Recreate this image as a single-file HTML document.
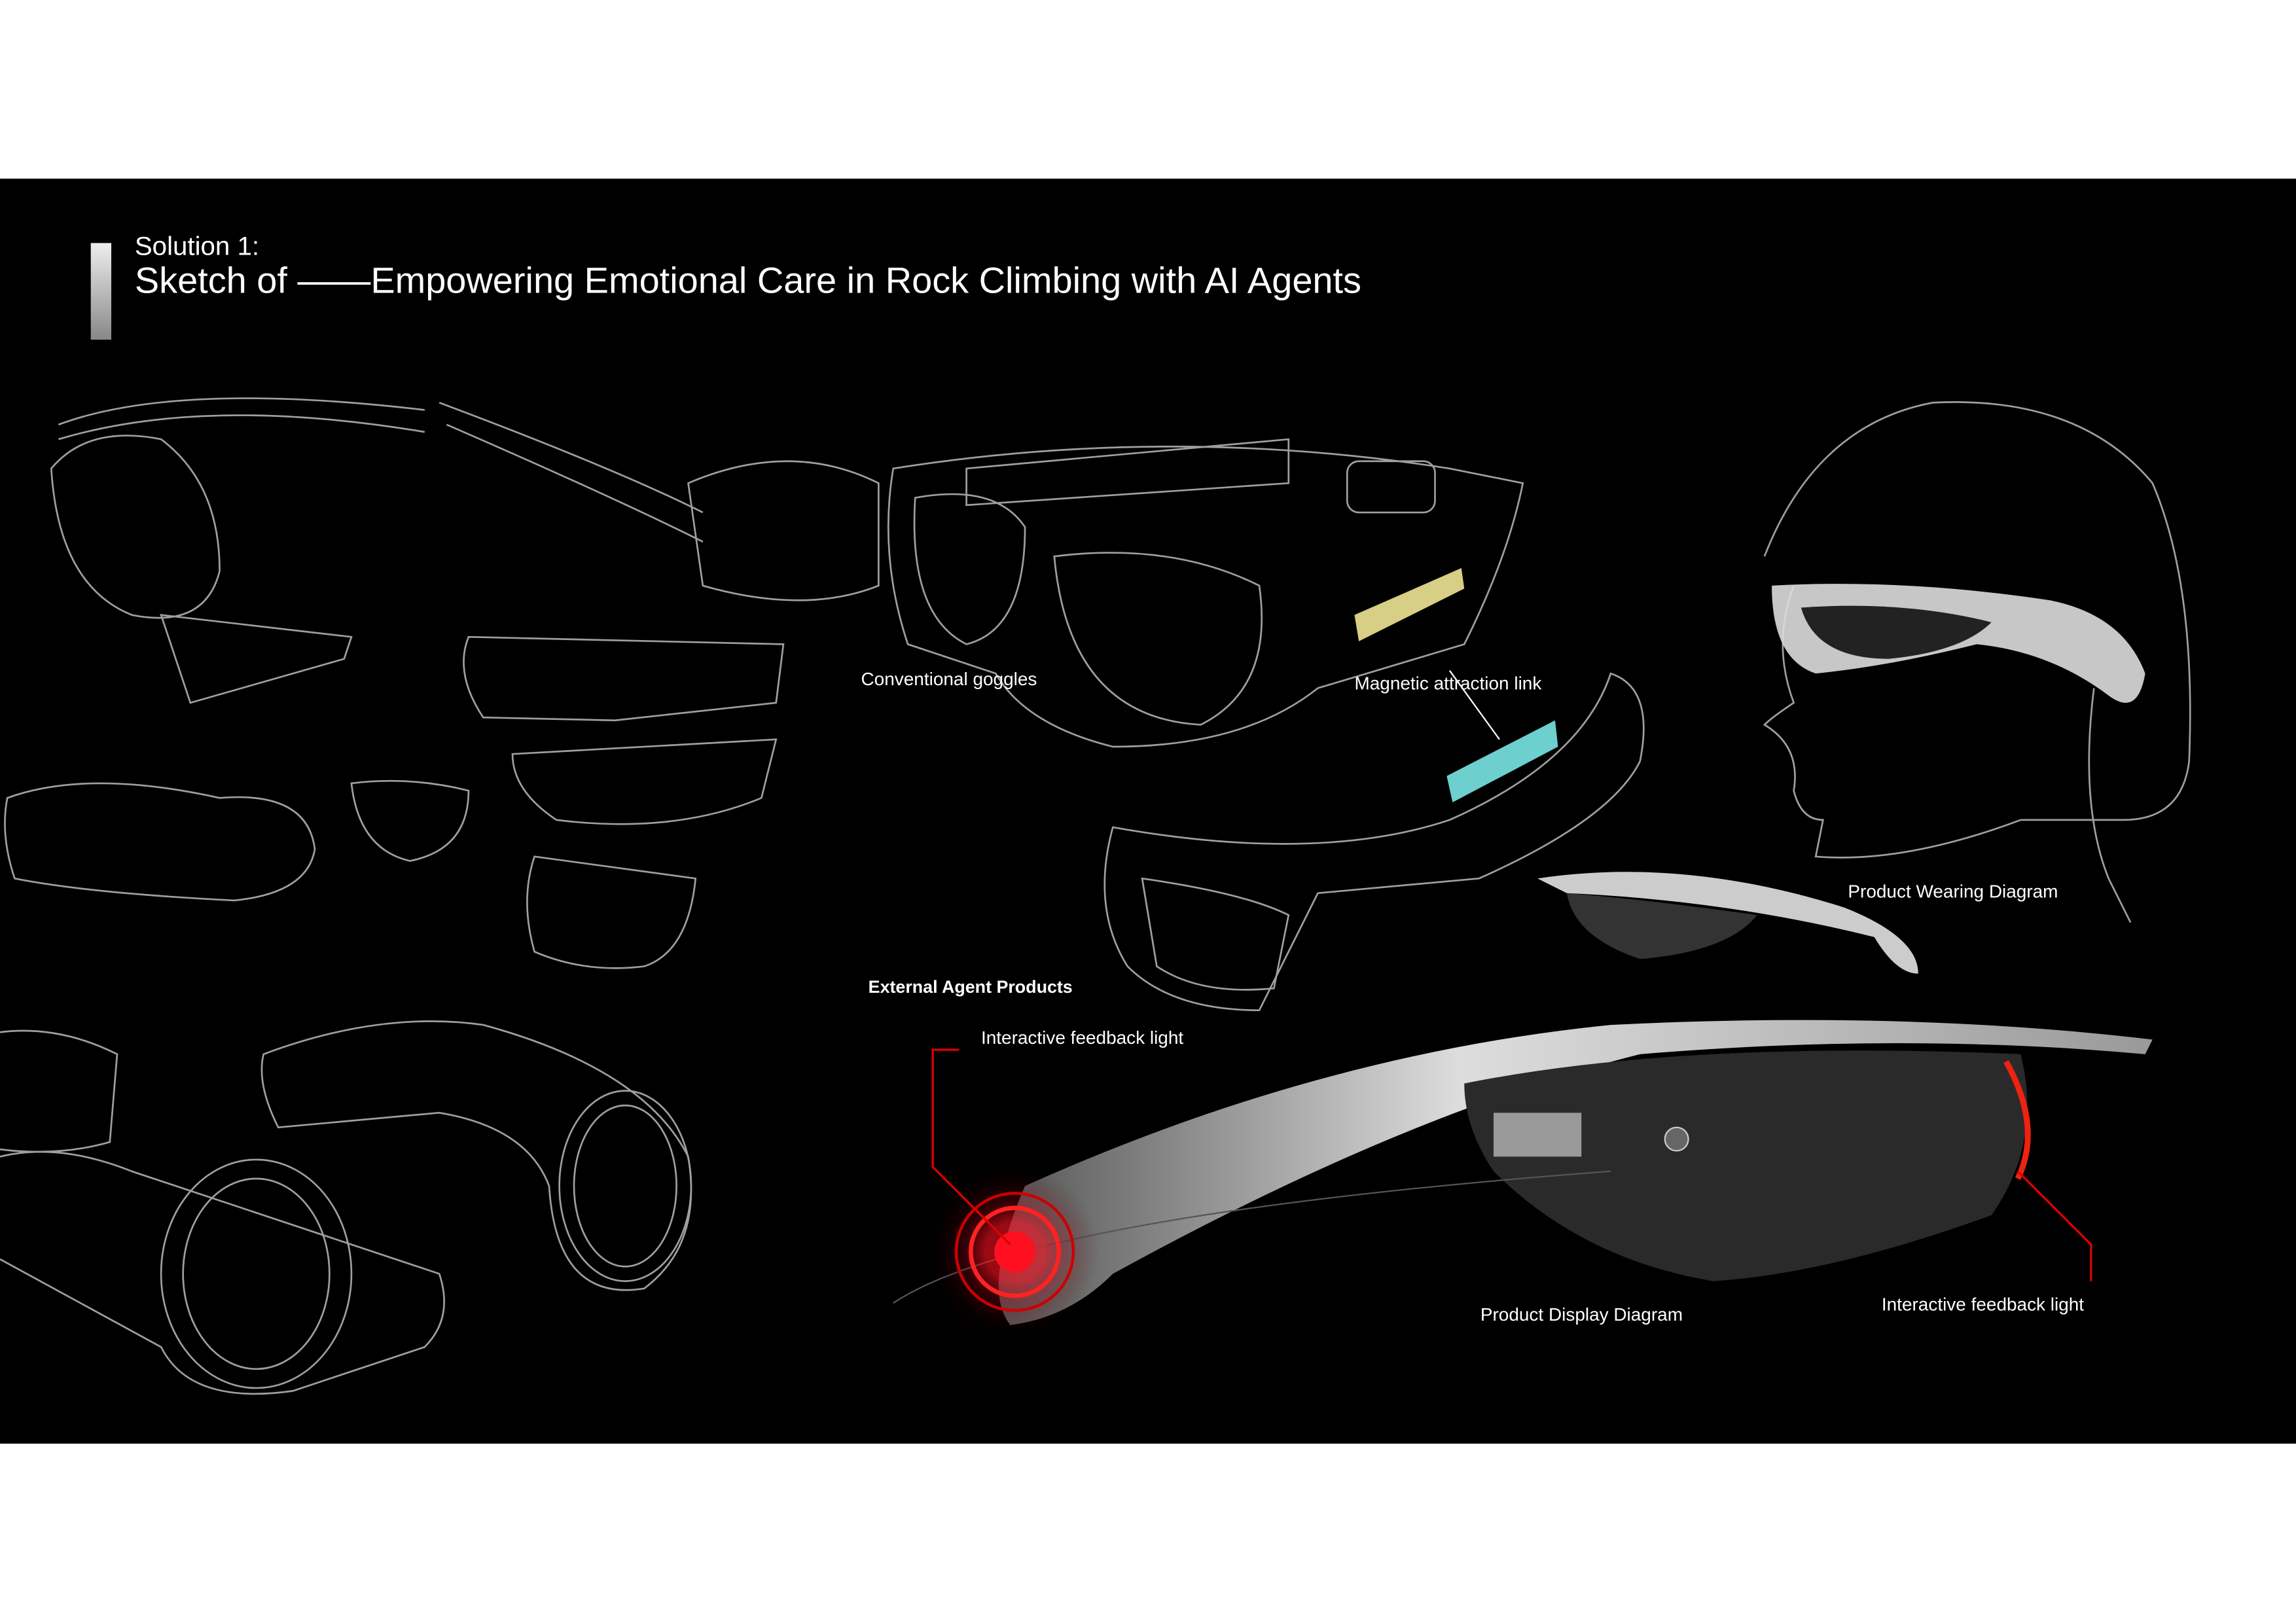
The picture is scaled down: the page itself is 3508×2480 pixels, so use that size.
<!DOCTYPE html>
<html><head><meta charset="utf-8"><style>
html,body{margin:0;padding:0;background:#fff;}
svg{display:block;}
text{font-family:"Liberation Sans",sans-serif;fill:#fff;}
</style></head><body>
<svg width="3508" height="2480" viewBox="0 0 1568 1108.5" xmlns="http://www.w3.org/2000/svg">
<defs>
<linearGradient id="bar" x1="0" y1="0" x2="0" y2="1"><stop offset="0" stop-color="#eee"/><stop offset="1" stop-color="#888"/></linearGradient>
<linearGradient id="arm" x1="0" y1="0" x2="1" y2="0"><stop offset="0" stop-color="#555"/><stop offset="0.4" stop-color="#ddd"/><stop offset="1" stop-color="#999"/></linearGradient>
<radialGradient id="glow"><stop offset="0" stop-color="#ff1020"/><stop offset="0.35" stop-color="#ff1020"/><stop offset="0.6" stop-color="#a00010" stop-opacity="0.5"/><stop offset="1" stop-color="#300" stop-opacity="0"/></radialGradient>
</defs>
<rect x="0" y="0" width="1568" height="1108.5" fill="#fff"/>
<rect x="0" y="122" width="1568" height="864" fill="#000"/>
<rect x="62" y="166" width="14" height="66" fill="url(#bar)"/>
<text x="92" y="174" font-size="18">Solution 1:</text>
<text x="92" y="200" font-size="25">Sketch of ——Empowering Emotional Care in Rock Climbing with AI Agents</text>

<g fill="none" stroke="#bbb" stroke-width="1.2" opacity="0.85">
 <!-- left top glasses -->
 <path d="M40 290 Q120 260 290 280 M40 300 Q140 270 290 295"/>
 <path d="M35 320 Q60 290 110 300 Q150 330 150 390 Q140 430 90 420 Q40 400 35 320Z"/>
 <path d="M110 420 L240 435 L235 450 L130 480 Z"/>
 <path d="M300 275 Q420 320 480 350 M305 290 Q420 340 480 370"/>
 <path d="M470 330 Q540 300 600 330 L600 400 Q550 420 480 400 Z"/>
 <path d="M610 320 Q800 290 990 320 L1040 330 Q1030 380 1000 440 L900 470 Q850 510 760 510 Q700 495 680 460 L620 440 Q600 380 610 320Z"/>
 <path d="M625 340 Q680 330 700 360 Q700 430 660 440 Q620 420 625 340Z"/>
 <path d="M720 380 Q800 370 860 400 Q870 470 820 495 Q730 490 720 380Z"/>
 <path d="M660 320 L880 300 L880 330 L660 345Z"/>
 <rect x="920" y="315" width="60" height="35" rx="8"/>
 <!-- small goggles -->
 <path d="M320 435 L535 440 L530 480 L420 492 L330 490 Q310 460 320 435Z"/>
 <path d="M350 515 L530 505 L520 545 Q460 570 380 560 Q350 540 350 515Z"/>
 <path d="M5 545 Q60 525 150 545 Q210 540 215 580 Q210 610 160 615 Q60 610 10 600 Q0 570 5 545Z"/>
 <path d="M240 535 Q280 530 320 540 Q320 580 280 588 Q245 580 240 535Z"/>
 <path d="M365 585 L475 600 Q470 650 440 660 Q400 665 365 650 Q355 615 365 585Z"/>
 <!-- bottom left -->
 <path d="M0 705 Q40 700 80 720 L75 780 Q40 790 0 785"/>
 <path d="M180 720 Q260 690 330 700 Q440 730 470 790 Q480 850 440 880 Q380 890 375 810 Q360 770 300 760 L190 770 Q175 740 180 720Z"/>
 <ellipse cx="427" cy="810" rx="45" ry="65"/>
 <ellipse cx="427" cy="810" rx="35" ry="55"/>
 <path d="M0 790 Q40 780 90 800 L300 870 Q310 900 290 920 L200 950 Q130 960 110 920 L0 860"/>
 <ellipse cx="175" cy="870" rx="65" ry="78"/>
 <ellipse cx="175" cy="870" rx="50" ry="65"/>
 <!-- external agent -->
 <path d="M760 565 Q900 590 990 560 Q1080 520 1100 460 Q1130 470 1120 520 Q1100 560 1010 600 L900 610 Q880 650 860 690 Q800 690 770 660 Q745 620 760 565Z"/>
 <path d="M780 600 Q850 610 880 625 L870 675 Q820 680 790 660Z"/>
 <!-- woman -->
 <path d="M1205 380 Q1240 290 1320 275 Q1420 270 1470 330 Q1500 400 1495 520 Q1490 560 1450 560 Q1400 560 1380 560"/>
 <path d="M1225 400 Q1210 440 1225 480 Q1210 490 1205 495 Q1230 510 1225 540 Q1230 560 1245 560 L1240 585 Q1300 590 1380 560"/>
 <path d="M1430 470 Q1420 550 1440 600 Q1450 620 1455 630"/>
</g>
<!-- wearing glasses white -->
<path d="M1210 400 Q1300 395 1400 410 Q1450 420 1465 460 Q1460 490 1440 475 Q1400 445 1350 440 Q1290 455 1240 460 Q1210 450 1210 400Z" fill="#ddd" opacity="0.9"/>
<path d="M1230 415 Q1300 410 1360 425 Q1340 445 1290 450 Q1240 450 1230 415Z" fill="#222"/>
<!-- yellow & teal -->
<polygon points="925,420 998,388 1000,402 928,438" fill="#d8cf86"/>
<polygon points="988,530 1062,492 1064,510 992,548" fill="#6ecfcf"/>
<path d="M990 458 L1024 505" stroke="#fff" stroke-width="1"/>
<!-- product wearing small glasses -->
<path d="M1050 600 Q1150 585 1260 620 Q1310 640 1310 665 Q1295 665 1280 640 Q1180 615 1070 610Z" fill="#ccc"/>
<path d="M1070 610 Q1130 615 1200 625 Q1180 650 1120 655 Q1075 640 1070 610Z" fill="#333"/>
<!-- product display -->
<path d="M700 810 Q900 720 1100 700 Q1300 690 1470 710 L1465 720 Q1300 705 1120 720 Q960 760 760 870 Q730 900 690 905 Q670 880 700 810Z" fill="url(#arm)"/>
<path d="M1000 740 Q1150 710 1380 720 Q1395 780 1360 830 Q1250 870 1170 875 Q1080 860 1020 800 Q1000 770 1000 740Z" fill="#2a2a2a"/>
<path d="M1020 760 L1080 760 L1080 790 L1020 790Z" fill="#999"/>
<circle cx="1145" cy="778" r="8" fill="#666" stroke="#ccc"/>
<path d="M1370 725 Q1395 770 1378 805" stroke="#e21" stroke-width="4" fill="none"/>
<path d="M610 890 Q700 830 1100 800" stroke="#555" fill="none"/>
<circle cx="693" cy="855" r="58" fill="url(#glow)" opacity="0.6"/>
<circle cx="693" cy="855" r="40" fill="none" stroke="#c00" stroke-width="2"/>
<circle cx="693" cy="855" r="30" fill="none" stroke="#f22" stroke-width="3"/>
<circle cx="693" cy="855" r="14" fill="#ff1020"/>
<g stroke="#d00" stroke-width="1.5" fill="none">
<path d="M655 717 L637 717 L637 797 L690 850"/>
<path d="M1428 875 L1428 850 L1378 800"/>
</g>

<text x="588" y="468" font-size="12.5">Conventional goggles</text>
<text x="925" y="471" font-size="12.5">Magnetic attraction link</text>
<text x="1262" y="613" font-size="12.5" fill="#ddd">Product Wearing Diagram</text>
<text x="593" y="678" font-size="12" font-weight="bold">External Agent Products</text>
<text x="670" y="713" font-size="12.5">Interactive feedback light</text>
<text x="1011" y="902" font-size="12.5" fill="#ddd">Product Display Diagram</text>
<text x="1285" y="895" font-size="12.5" fill="#ddd">Interactive feedback light</text>
</svg>
</body></html>
